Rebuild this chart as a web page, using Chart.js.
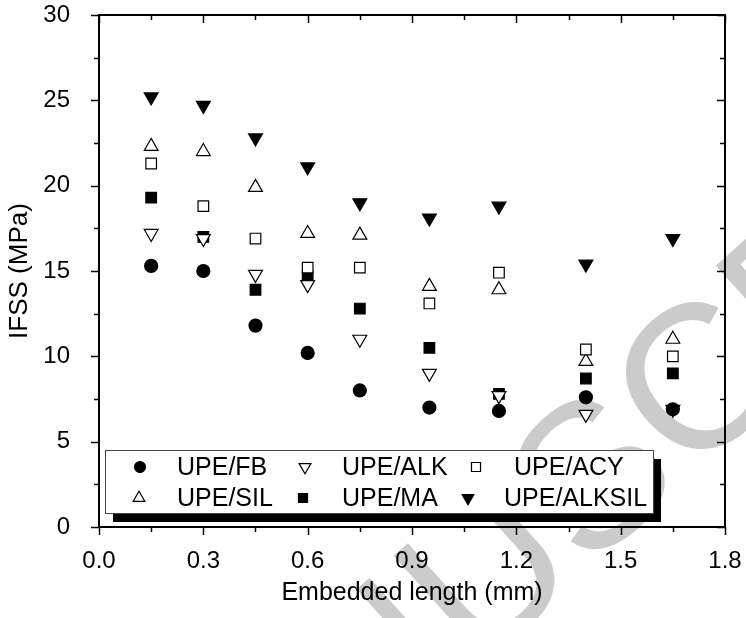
<!DOCTYPE html>
<html>
<head>
<meta charset="utf-8">
<script src="https://cdn.jsdelivr.net/npm/chart.js@4.4.0/dist/chart.umd.min.js"></script>
<style>
  html, body { margin: 0; padding: 0; background: #fff; }
</style>
</head>
<body>
<canvas id="ifss" width="746" height="618"></canvas>
<script>
// embedded length (mm), one value per column of points
const lengths = [0.15, 0.3, 0.45, 0.6, 0.75, 0.95, 1.15, 1.4, 1.65];
// IFSS (MPa) for each fibre treatment
const fb     = [15.3, 15.0, 11.8, 10.2, 8.0, 7.0, 6.8, 7.6, 6.9];
const alk    = [17.2, 16.9, 14.8, 14.2, 11.0, 9.0, 7.7, 6.6, 6.9];
const acy    = [21.3, 18.8, 16.9, 15.2, 15.2, 13.1, 14.9, 10.4, 10.0];
const sil    = [22.3, 22.0, 19.9, 17.2, 17.1, 14.1, 13.9, 9.7, 11.0];
const ma     = [19.3, 17.0, 13.9, 14.7, 12.8, 10.5, 7.8, 8.7, 9.0];
const alksil = [25.2, 24.7, 22.8, 21.1, 19.0, 18.1, 18.8, 15.4, 16.9];

const seriesNames = ['UPE/FB', 'UPE/ALK', 'UPE/ACY', 'UPE/SIL', 'UPE/MA', 'UPE/ALKSIL'];
const xTickLabels = [0.0, 0.3, 0.6, 0.9, 1.2, 1.5, 1.8];
const yTickLabels = [0, 5, 10, 15, 20, 25, 30];

const FONT = '"Liberation Sans", Arial, Helvetica, sans-serif';

function points(vals) {
    return lengths.map((x, i) => ({ x: x, y: vals[i] }));
}

// marker look: [style, rotation, filled, radius]
const markers = [
    ['circle', 0, true, 6.5],
    ['triangle', 180, false, 8],
    ['rect', 0, false, 7.5],
    ['triangle', 0, false, 8],
    ['rect', 0, true, 7.5],
    ['triangle', 180, true, 8]
];
const allVals = [fb, alk, acy, sil, ma, alksil];

let datasets = [];
for (let i = 0; i < allVals.length; i++) {
    let m = markers[i];
    datasets.push({
        label: seriesNames[i],
        data: points(allVals[i]),
        pointStyle: m[0],
        rotation: m[1],
        pointRadius: m[3],
        pointHoverRadius: m[3],
        backgroundColor: m[2] ? '#000' : '#fff',
        borderColor: '#000',
        pointBorderWidth: 1.2,
        showLine: false
    });
}

// draw a small legend symbol by hand
function symbol(ctx, kind, x, y) {
    let m = markers[kind];
    let r = m[3] * 0.85;
    ctx.save();
    ctx.lineWidth = 1.2;
    ctx.strokeStyle = '#000';
    ctx.fillStyle = m[2] ? '#000' : '#fff';
    ctx.beginPath();
    if (m[0] === 'circle') {
        ctx.arc(x, y, r, 0, Math.PI * 2);
    } else if (m[0] === 'rect') {
        let s = r * Math.SQRT1_2;
        ctx.rect(x - s, y - s, 2 * s, 2 * s);
    } else {
        let dir = m[1] ? -1 : 1;
        let a = r * 0.866;
        ctx.moveTo(x, y - dir * r);
        ctx.lineTo(x + a, y + dir * r / 2);
        ctx.lineTo(x - a, y + dir * r / 2);
        ctx.closePath();
    }
    ctx.fill();
    ctx.stroke();
    ctx.restore();
}

const watermark = {
    id: 'watermark',
    beforeDraw(chart) {
        const ctx = chart.ctx;
        ctx.save();
        ctx.fillStyle = '#cbcbcb';
        ctx.font = '205px ' + FONT;
        ctx.translate(488, 574);
        ctx.rotate(-42 * Math.PI / 180);
        ctx.textBaseline = 'middle';
        let pre = ctx.measureText('MAN').width;
        let u = ctx.measureText('U').width;
        ctx.fillText('MANUSCRIPT', -(pre + u / 2), 8);
        ctx.restore();
    }
};

const frame = {
    id: 'frame',
    afterDatasetsDraw(chart) {
        const ctx = chart.ctx;
        const a = chart.chartArea;
        const xs = chart.scales.x, ys = chart.scales.y;
        ctx.save();
        ctx.strokeStyle = '#000';
        ctx.lineWidth = 2;
        ctx.strokeRect(a.left, a.top, a.right - a.left, a.bottom - a.top);
        ctx.lineWidth = 1.5;
        ctx.beginPath();
        for (let k = 0; k <= 12; k++) {
            let px = Math.round(xs.getPixelForValue(k * 0.15)) + 0.5;
            let len = k % 2 === 0 ? 8 : 5;
            ctx.moveTo(px, a.bottom); ctx.lineTo(px, a.bottom + len);
            ctx.moveTo(px, a.top); ctx.lineTo(px, a.top + len);
        }
        for (let k = 0; k <= 12; k++) {
            let py = Math.round(ys.getPixelForValue(k * 2.5)) + 0.5;
            let len = k % 2 === 0 ? 8 : 5;
            ctx.moveTo(a.left, py); ctx.lineTo(a.left - len, py);
            ctx.moveTo(a.right, py); ctx.lineTo(a.right - len, py);
        }
        ctx.stroke();

        // legend box with drop shadow
        let bx = 105, by = 450, bw = 548, bh = 63;
        ctx.fillStyle = '#000';
        ctx.fillRect(bx + 8, by + 9, bw, bh);
        ctx.fillStyle = '#fff';
        ctx.fillRect(bx, by, bw, bh);
        ctx.lineWidth = 1;
        ctx.strokeStyle = '#444';
        ctx.strokeRect(bx + 0.5, by + 0.5, bw, bh);

        const slots = [
            [140, 467, 177], [305, 467, 342], [476, 467, 514],
            [139, 498, 177], [303, 498, 342], [468, 498, 504]
        ];
        ctx.font = '25px ' + FONT;
        ctx.fillStyle = '#000';
        ctx.textBaseline = 'middle';
        ctx.textAlign = 'left';
        for (let i = 0; i < slots.length; i++) {
            let s = slots[i];
            symbol(ctx, i, s[0], s[1]);
            ctx.fillStyle = '#000';
            ctx.fillText(seriesNames[i], s[2], s[1] + 1);
        }
        ctx.restore();
    }
};

new Chart(document.getElementById('ifss'), {
    type: 'scatter',
    data: { datasets: datasets },
    options: {
        responsive: false,
        animation: false,
        events: [],
        layout: { padding: { top: 15, right: 21, left: 0, bottom: 0 } },
        plugins: { legend: { display: false }, tooltip: { enabled: false } },
        scales: {
            x: {
                type: 'linear', min: 0, max: 1.8,
                grid: { display: false },
                border: { display: false },
                afterBuildTicks: (s) => { s.ticks = xTickLabels.map(v => ({ value: v })); },
                afterFit: (s) => { s.height = 91; s.paddingLeft = 0; s.paddingRight = 0; },
                ticks: {
                    color: '#000', padding: 12,
                    font: { family: FONT, size: 24 },
                    maxRotation: 0,
                    callback: (v) => Number(v).toFixed(1)
                },
                title: {
                    display: true, text: 'Embedded length (mm)', color: '#000',
                    font: { family: FONT, size: 25 },
                    padding: { top: 0, bottom: 10 }
                }
            },
            y: {
                type: 'linear', min: 0, max: 30,
                grid: { display: false },
                border: { display: false },
                afterBuildTicks: (s) => { s.ticks = yTickLabels.map(v => ({ value: v })); },
                afterFit: (s) => { s.width = 99; s.paddingTop = 0; s.paddingBottom = 0; },
                ticks: {
                    color: '#000', padding: 21,
                    font: { family: FONT, size: 24 },
                    callback: (v) => String(v)
                },
                title: {
                    display: true, text: 'IFSS (MPa)', color: '#000',
                    font: { family: FONT, size: 26 },
                    padding: { top: 4, bottom: 0 }
                }
            }
        }
    },
    plugins: [watermark, frame]
});
</script>
</body>
</html>
